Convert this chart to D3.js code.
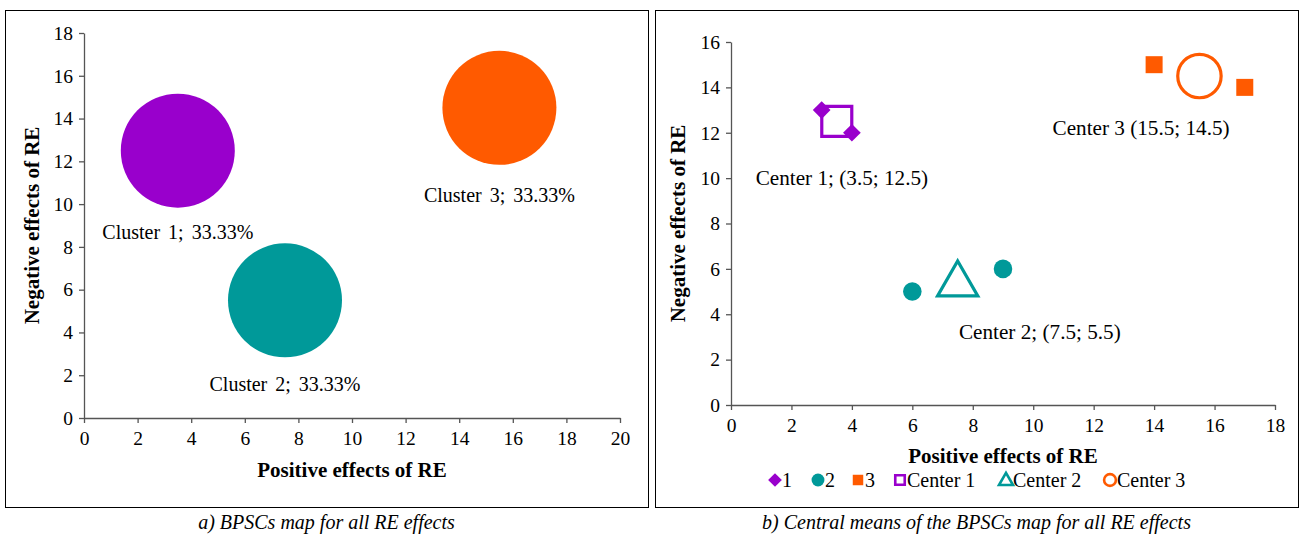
<!DOCTYPE html>
<html>
<head>
<meta charset="utf-8">
<script src="https://cdn.jsdelivr.net/npm/d3@7"></script>
<style>
  body { margin: 0; background: #fff; }
  text { font-family: "Liberation Serif", "Times New Roman", serif; }
</style>
</head>
<body>
<div id="chart"></div>
<script>
// cluster bubbles (panel a)
const clusterNames = ["Cluster 1", "Cluster 2", "Cluster 3"];
const clusterX = [3.5, 7.5, 15.5];
const clusterY = [12.5, 5.5, 14.5];
const clusterShare = ["33.33%", "33.33%", "33.33%"];
const colors = ["#9900cc", "#009999", "#ff5a00"];

// member points (panel b)
const pointGroup = [1, 1, 2, 2, 3, 3];
const pointX = [3, 4, 6, 9, 14, 17];
const pointY = [13, 12, 5, 6, 15, 14];
const centerLabels = ["Center 1; (3.5; 12.5)", "Center 2; (7.5; 5.5)", "Center 3 (15.5; 14.5)"];

const xTicksA = d3.range(0, 21, 2);
const yTicksA = d3.range(0, 19, 2);
const xTicksB = d3.range(0, 19, 2);
const yTicksB = d3.range(0, 17, 2);

const W = 1303, H = 538;
const svg = d3.select("#chart").append("svg")
  .attr("width", W).attr("height", H)
  .attr("font-family", "Liberation Serif");

function frame(x0, x1, caption) {
  svg.append("rect")
    .attr("x", x0 + 0.5).attr("y", 10.5)
    .attr("width", x1 - x0).attr("height", 497)
    .attr("fill", "none").attr("stroke", "#000").attr("stroke-width", 1);
  svg.append("text")
    .attr("x", (x0 + x1) / 2).attr("y", 529)
    .attr("text-anchor", "middle")
    .attr("font-size", 20).attr("font-style", "italic")
    .text(caption);
}

function axes(g, x, y, xt, yt, xTitleY, yTitleX) {
  const xa = g.append("g")
    .attr("transform", `translate(0,${y.range()[0]})`)
    .call(d3.axisBottom(x).tickValues(xt).tickSize(5).tickSizeOuter(0));
  const ya = g.append("g")
    .attr("transform", `translate(${x.range()[0]},0)`)
    .call(d3.axisLeft(y).tickValues(yt).tickSize(5).tickSizeOuter(0));
  [xa, ya].forEach(a => {
    a.attr("font-family", "Liberation Serif").attr("font-size", 19.5);
    a.selectAll("path, line").attr("stroke", "#555").attr("stroke-width", 1.3);
    a.selectAll("text").attr("font-size", 19.5).attr("fill", "#000");
  });
  xa.selectAll("text").attr("dy", "0.95em");
  ya.selectAll("text").attr("dx", "-0.15em");
  g.append("text")
    .attr("x", (x.range()[0] + x.range()[1]) / 2).attr("y", xTitleY)
    .attr("text-anchor", "middle").attr("font-weight", "bold").attr("font-size", 21)
    .text("Positive effects of RE");
  g.append("text")
    .attr("transform", `translate(${yTitleX},${(y.range()[0] + y.range()[1]) / 2}) rotate(-90)`)
    .attr("text-anchor", "middle").attr("font-weight", "bold").attr("font-size", 21)
    .text("Negative effects of RE");
}

// ---- panel a ----
frame(5, 648, "a) BPSCs map for all RE effects");
const gA = svg.append("g");
const xA = d3.scaleLinear().domain([0, 20]).range([84, 620]);
const yA = d3.scaleLinear().domain([0, 18]).range([418, 33]);
axes(gA, xA, yA, xTicksA, yTicksA, 477, 39);

const labelOffset = [88, 91, 94];
clusterNames.forEach((n, i) => {
  gA.append("circle")
    .attr("cx", xA(clusterX[i])).attr("cy", yA(clusterY[i]))
    .attr("r", 57).attr("fill", colors[i]);
  gA.append("text")
    .attr("x", xA(clusterX[i])).attr("y", yA(clusterY[i]) + labelOffset[i])
    .attr("text-anchor", "middle").attr("font-size", 20)
    .attr("word-spacing", 3)
    .text(`${n}; ${clusterShare[i]}`);
});

// ---- panel b ----
frame(655, 1298, "b) Central means of the BPSCs map for all RE effects");
const gB = svg.append("g");
const xB = d3.scaleLinear().domain([0, 18]).range([731, 1275]);
const yB = d3.scaleLinear().domain([0, 16]).range([405, 42]);
axes(gB, xB, yB, xTicksB, yTicksB, 463, 685);

const filledSym = [d3.symbolDiamond2, d3.symbolCircle, d3.symbolSquare];
const filledSize = [200, 270, 289];
const hollowSym = [d3.symbolSquare, d3.symbolTriangle, d3.symbolCircle];
const hollowSize = [900, 700, 1480];

// centers drawn first
clusterX.forEach((cx, i) => {
  gB.append("path")
    .attr("d", d3.symbol().type(hollowSym[i]).size(hollowSize[i])())
    .attr("transform", `translate(${xB(cx)},${yB(clusterY[i]) + (i === 1 ? 4 : 0)})`)
    .attr("fill", "none").attr("stroke", colors[i]).attr("stroke-width", 3.2);
});

pointX.forEach((px, j) => {
  const k = pointGroup[j] - 1;
  gB.append("path")
    .attr("d", d3.symbol().type(filledSym[k]).size(filledSize[k])())
    .attr("transform", `translate(${xB(px)},${yB(pointY[j])})`)
    .attr("fill", colors[k]);
});

const labelPos = [[3.67, 9.7], [10.22, 2.9], [13.57, 11.9]];
centerLabels.forEach((t, i) => {
  gB.append("text")
    .attr("x", xB(labelPos[i][0])).attr("y", yB(labelPos[i][1]))
    .attr("text-anchor", "middle").attr("font-size", 21.2)
    .text(t);
});

// legend
const legendItems = [
  { sym: filledSym[0], size: 120, c: 0, fill: true, label: "1", x: 775 },
  { sym: filledSym[1], size: 130, c: 1, fill: true, label: "2", x: 818 },
  { sym: filledSym[2], size: 110, c: 2, fill: true, label: "3", x: 858 },
  { sym: hollowSym[0], size: 90, c: 0, fill: false, label: "Center 1", x: 900 },
  { sym: hollowSym[1], size: 85, c: 1, fill: false, label: "Center 2", x: 1006 },
  { sym: hollowSym[2], size: 110, c: 2, fill: false, label: "Center 3", x: 1110 }
];
const leg = gB.append("g");
legendItems.forEach(d => {
  leg.append("path")
    .attr("d", d3.symbol().type(d.sym).size(d.size)())
    .attr("transform", `translate(${d.x},${480 + (d.sym === d3.symbolTriangle ? 1 : 0)})`)
    .attr("fill", d.fill ? colors[d.c] : "none")
    .attr("stroke", d.fill ? "none" : colors[d.c])
    .attr("stroke-width", d.fill ? 0 : 2.6);
  leg.append("text")
    .attr("x", d.x + 7).attr("y", 487)
    .attr("font-size", 20)
    .text(d.label);
});
</script>
</body>
</html>
